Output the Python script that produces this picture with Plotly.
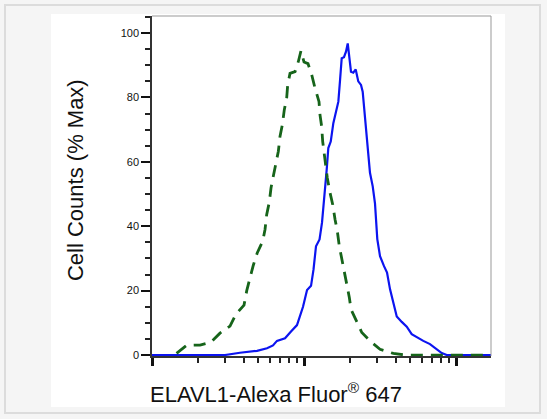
import plotly.graph_objects as go

# Fluorescence intensity (log scale) and % max counts
blue_x = [100, 302, 379, 491, 571, 625, 664, 750, 821, 899, 985, 1047, 1112, 1155,
          1199, 1265, 1313, 1364, 1410, 1445, 1499, 1559, 1617, 1682, 1726, 1770,
          1832, 1888, 1939, 1986, 2037, 2109, 2188, 2275, 2371, 2432, 2518, 2607,
          2716, 2831, 2931, 3034, 3162, 3359, 3516, 3681, 3868, 4074, 4395, 4740,
          5110, 5510, 6090, 6740, 7460, 8050, 8690, 16980]
blue_y = [0, 0, 0.7, 1.3, 2.1, 3.0, 4.4, 5.2, 7.3, 9.3, 15.0, 20.2, 21.5, 26.6,
          33.8, 35.9, 41.1, 49.0, 57.6, 64.3, 66.3, 72.0, 75.6, 78.7, 85.4, 92.2,
          92.5, 94.2, 96.8, 92.7, 88.0, 87.7, 88.7, 85.0, 83.9, 81.8, 74.1, 65.9,
          56.6, 52.4, 47.0, 36.0, 30.7, 27.6, 25.6, 20.4, 16.3, 12.0, 10.3, 8.8,
          6.5, 5.5, 4.4, 3.4, 1.9, 0.6, 0, 0]

green_x = [145, 169, 207, 244, 280, 326, 357, 403, 420, 437, 464, 493, 535, 554,
           568, 591, 607, 628, 654, 678, 695, 720, 742, 769, 781, 809, 873, 917,
           955, 1000, 1062, 1124, 1181, 1255, 1274, 1306, 1327, 1355, 1396, 1423,
           1483, 1545, 1600, 1656, 1707, 1770, 1832, 1928, 1986, 2037, 2223, 2399,
           2787, 3162, 3868, 4613, 16750]
green_y = [0.5, 3.0, 3.1, 4.0, 6.8, 9.0, 12.7, 15.5, 20.0, 23.5, 27.9, 31.8, 35.4,
           39.0, 43.6, 47.5, 52.0, 55.5, 59.7, 63.3, 67.9, 71.5, 76.2, 79.8, 83.9,
           87.5, 88.0, 91.1, 94.5, 91.0, 90.5, 87.0, 82.9, 78.7, 74.6, 71.0, 66.3,
           62.7, 58.1, 55.0, 50.4, 46.7, 42.1, 38.5, 33.8, 30.2, 26.1, 22.0, 17.9,
           14.2, 10.1, 7.0, 3.9, 1.8, 0.5, 0, 0]

y_major = [0, 20, 40, 60, 80, 100]
y_labels = ["0", "20", "40", "60", "80", "100"]
x_major = [100, 1000, 10000]
x_minor = [200, 300, 400, 500, 600, 700, 800, 900,
           2000, 3000, 4000, 5000, 6000, 7000, 8000, 9000]

x_title = "ELAVL1-Alexa Fluor<sup>®</sup> 647"
y_title = "Cell Counts (% Max)"

fig = go.Figure()
fig.add_trace(go.Scatter(x=blue_x, y=blue_y, mode="lines",
                         line=dict(color="rgb(12,20,240)", width=2.2),
                         hoverinfo="skip", showlegend=False))
fig.add_trace(go.Scatter(x=green_x, y=green_y, mode="lines",
                         line=dict(color="rgb(22,100,26)", width=2.8, dash="12px,8px"),
                         hoverinfo="skip", showlegend=False))

font_family = "Liberation Sans, Arial, sans-serif"

fig.update_layout(
    template="none",
    width=547, height=419,
    margin=dict(l=152, r=56, t=16, b=63),
    paper_bgcolor="#f5f5f5",
    plot_bgcolor="white",
    font=dict(family=font_family, color="#111"),
    xaxis=dict(type="log", range=[2, 4.230], showgrid=False, zeroline=False,
               showline=True, linecolor="#333", linewidth=1.5,
               tickmode="array", tickvals=x_major, showticklabels=False,
               ticks="outside", ticklen=8, tickwidth=3, tickcolor="#111",
               minor=dict(tickmode="array", tickvals=x_minor, ticks="outside",
                          ticklen=5, tickwidth=1.5, tickcolor="#222", showgrid=False)),
    yaxis=dict(range=[-0.3, 105.3], showgrid=False, zeroline=False,
               showline=True, linecolor="#333", linewidth=1.5,
               tickmode="array", tickvals=y_major, ticktext=y_labels,
               ticks="outside", ticklen=9, tickwidth=2, tickcolor="#111",
               tickfont=dict(size=11, color="#111", family=font_family),
               minor=dict(dtick=5, ticks="outside", ticklen=5, tickwidth=1.5,
                          tickcolor="#222", showgrid=False)),
    shapes=[
        dict(type="rect", xref="paper", yref="paper", layer="below",
             x0=-0.4336, x1=1.1445, y0=-0.1676, y1=1.0324,
             line=dict(color="#dcdcdc", width=2), fillcolor="#f5f5f5"),
        dict(type="rect", xref="paper", yref="paper", layer="below",
             x0=-0.2979, x1=1.0413, y0=-0.15, y1=1.0059,
             line=dict(width=0), fillcolor="white"),
        dict(type="line", xref="paper", yref="paper", x0=0, x1=1, y0=1, y1=1,
             line=dict(color="#999", width=1)),
        dict(type="line", xref="paper", yref="paper", x0=1, x1=1, y0=0, y1=1,
             line=dict(color="#999", width=1)),
    ],
    annotations=[
        dict(text=x_title, xref="paper", yref="paper", x=0.367, y=-0.1088,
             xanchor="center", yanchor="middle", showarrow=False,
             font=dict(size=22, color="#111", family=font_family)),
        dict(text=y_title, xref="paper", yref="paper", x=-0.2271, y=0.5176,
             xanchor="center", yanchor="middle", showarrow=False, textangle=-90,
             font=dict(size=22, color="#111", family=font_family)),
    ],
)

fig.write_html(
    "out.html",
    config={"displayModeBar": False},
    post_script="document.body.style.margin='0';document.body.style.padding='0';"
                "document.body.style.overflow='hidden';",
)
